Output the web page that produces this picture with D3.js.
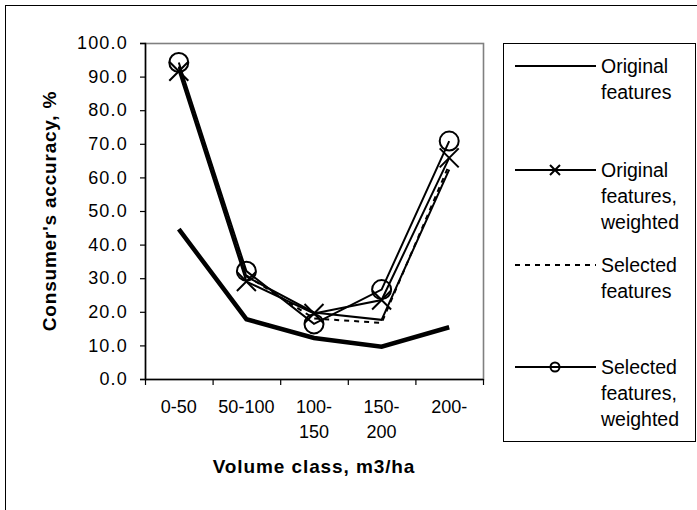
<!DOCTYPE html>
<html>
<head>
<meta charset="utf-8">
<script src="https://cdn.jsdelivr.net/npm/d3@7"></script>
<style>
  html, body { margin: 0; padding: 0; background: #fff; }
  svg { display: block; font-family: "Liberation Sans", Arial, sans-serif; }
</style>
</head>
<body>
<svg id="chart" width="697" height="510"></svg>
<script>
// Volume classes (x categories), two-line labels split on "\n"
const categories = ["0-50", "50-100", "100-150", "150-200", "200-"];
const categoryLabels = ["0-50", "50-100", "100-\n150", "150-\n200", "200-"];

// Consumer's accuracy (%) per volume class
const overall          = [44.6, 17.8, 12.2, 9.6, 15.4];
const original         = [92.8, 30.5, 19.8, 17.6, 62.3];
const originalWeighted = [91.6, 29.0, 19.5, 23.5, 65.8];
const selected         = [93.0, 30.8, 18.0, 16.7, 63.8];
const selectedWeighted = [94.2, 32.1, 16.4, 26.6, 70.8];

const yTicks = [0, 10, 20, 30, 40, 50, 60, 70, 80, 90, 100];

const legendItems = [
  { lines: ["Original", "features"], dash: null, marker: null },
  { lines: ["Original", "features,", "weighted"], dash: null, marker: "x" },
  { lines: ["Selected", "features"], dash: "5,5", marker: null },
  { lines: ["Selected", "features,", "weighted"], dash: null, marker: "o" }
];

const svg = d3.select("#chart");

// chart-area frame
svg.append("rect")
  .attr("x", 5.5).attr("y", 5.5)
  .attr("width", 720).attr("height", 530)
  .attr("fill", "#fff").attr("stroke", "#000").attr("stroke-width", 1);

const plot = { left: 145, top: 43, right: 483, bottom: 379 };

const x = d3.scaleBand().domain(categories).range([plot.left, plot.right]);
const xEdges = d3.scaleLinear().domain([0, categories.length]).range([plot.left, plot.right]);
const y = d3.scaleLinear().domain([0, 100]).range([plot.bottom, plot.top]);

// plot-area border (grey)
svg.append("rect")
  .attr("x", plot.left + 0.5).attr("y", plot.top + 0.5)
  .attr("width", plot.right - plot.left).attr("height", plot.bottom - plot.top)
  .attr("fill", "#fff").attr("stroke", "#808080").attr("stroke-width", 1.6);

// Y axis
const yAxis = svg.append("g")
  .attr("transform", `translate(${plot.left},0)`)
  .call(d3.axisLeft(y).tickValues(yTicks).tickFormat(d3.format(".1f"))
    .tickSize(5).tickPadding(12));
yAxis.select(".domain").attr("stroke", "#000").attr("stroke-width", 1.5);
yAxis.selectAll(".tick line").attr("stroke", "#000").attr("stroke-width", 1.2);
yAxis.selectAll(".tick text")
  .attr("font-size", 18).attr("fill", "#000")
  .attr("font-family", "Liberation Sans, Arial, sans-serif")
  .style("letter-spacing", "1.2px");

// X axis: tick marks on the class boundaries
const xAxis = svg.append("g")
  .attr("transform", `translate(0,${plot.bottom})`)
  .call(d3.axisBottom(xEdges).tickValues(d3.range(categories.length + 1))
    .tickFormat("").tickSize(6).tickSizeOuter(0));
xAxis.select(".domain").attr("stroke", "#000").attr("stroke-width", 1.5);
xAxis.selectAll(".tick line").attr("stroke", "#000").attr("stroke-width", 1.2);

// X category labels centred in each class
const xLab = svg.append("g").selectAll("text")
  .data(categories)
  .join("text")
  .attr("x", d => x(d) + x.bandwidth() / 2)
  .attr("y", plot.bottom + 34)
  .attr("text-anchor", "middle")
  .attr("font-size", 18)
  .attr("fill", "#000");
xLab.each(function(d, i) {
  const parts = categoryLabels[i].split("\n");
  d3.select(this).selectAll("tspan")
    .data(parts)
    .join("tspan")
    .attr("x", x(d) + x.bandwidth() / 2)
    .attr("dy", (p, j) => j === 0 ? 0 : 25)
    .text(p => p);
});

// Axis titles
svg.append("text")
  .attr("x", (plot.left + plot.right) / 2)
  .attr("y", 473)
  .attr("text-anchor", "middle")
  .attr("font-size", 19).attr("font-weight", "bold")
  .style("letter-spacing", "0.9px")
  .text("Volume class, m3/ha");

svg.append("text")
  .attr("transform", `translate(56,${(plot.top + plot.bottom) / 2}) rotate(-90)`)
  .attr("text-anchor", "middle")
  .attr("font-size", 19).attr("font-weight", "bold")
  .style("letter-spacing", "0.8px")
  .text("Consumer's accuracy, %");

// Series
const cx = d => x(d) + x.bandwidth() / 2;
const line = d3.line().x((v, i) => cx(categories[i])).y(v => y(v));

const series = [
  { values: overall, width: 4.5, dash: null },
  { values: original, width: 2, dash: null },
  { values: selected, width: 2, dash: "5,5" },
  { values: originalWeighted, width: 2, dash: null, marker: "x" },
  { values: selectedWeighted, width: 2, dash: null, marker: "o" }
];

const g = svg.append("g");
series.forEach(s => {
  g.append("path")
    .datum(s.values)
    .attr("d", line)
    .attr("fill", "none")
    .attr("stroke", "#000")
    .attr("stroke-width", s.width)
    .attr("stroke-linejoin", "miter")
    .attr("stroke-dasharray", s.dash);
});

function drawMarker(sel, type, px, py, r) {
  if (type === "x") {
    sel.append("path")
      .attr("d", `M${px - r},${py - r}L${px + r},${py + r}M${px - r},${py + r}L${px + r},${py - r}`)
      .attr("stroke", "#000").attr("stroke-width", 2).attr("fill", "none");
  } else if (type === "o") {
    sel.append("circle")
      .attr("cx", px).attr("cy", py).attr("r", r)
      .attr("stroke", "#000").attr("stroke-width", 2).attr("fill", "none");
  }
}

series.filter(s => s.marker).forEach(s => {
  s.values.forEach((v, i) => {
    drawMarker(g, s.marker, cx(categories[i]), y(v), s.marker === "x" ? 9.5 : 9.5);
  });
});

// Legend
const legend = { left: 503, top: 43, right: 695, bottom: 441 };
svg.append("rect")
  .attr("x", legend.left + 0.5).attr("y", legend.top + 0.5)
  .attr("width", legend.right - legend.left).attr("height", legend.bottom - legend.top)
  .attr("fill", "#fff").attr("stroke", "#000").attr("stroke-width", 1);

const legendRows = [66, 170, 265, 367];
const lineH = 26;
legendItems.forEach((item, k) => {
  const ly = legendRows[k];
  const lg = svg.append("g");
  lg.append("line")
    .attr("x1", 515).attr("x2", 596)
    .attr("y1", ly).attr("y2", ly)
    .attr("stroke", "#000").attr("stroke-width", 2)
    .attr("stroke-dasharray", item.dash);
  if (item.marker === "x") drawMarker(lg, "x", 555, ly, 5);
  if (item.marker === "o") drawMarker(lg, "o", 555, ly, 4.5);
  item.lines.forEach((t, j) => {
    lg.append("text")
      .attr("x", 601).attr("y", ly + 7 + j * lineH)
      .attr("font-size", 19.5).attr("fill", "#000")
      .text(t);
  });
});
</script>
</body>
</html>
